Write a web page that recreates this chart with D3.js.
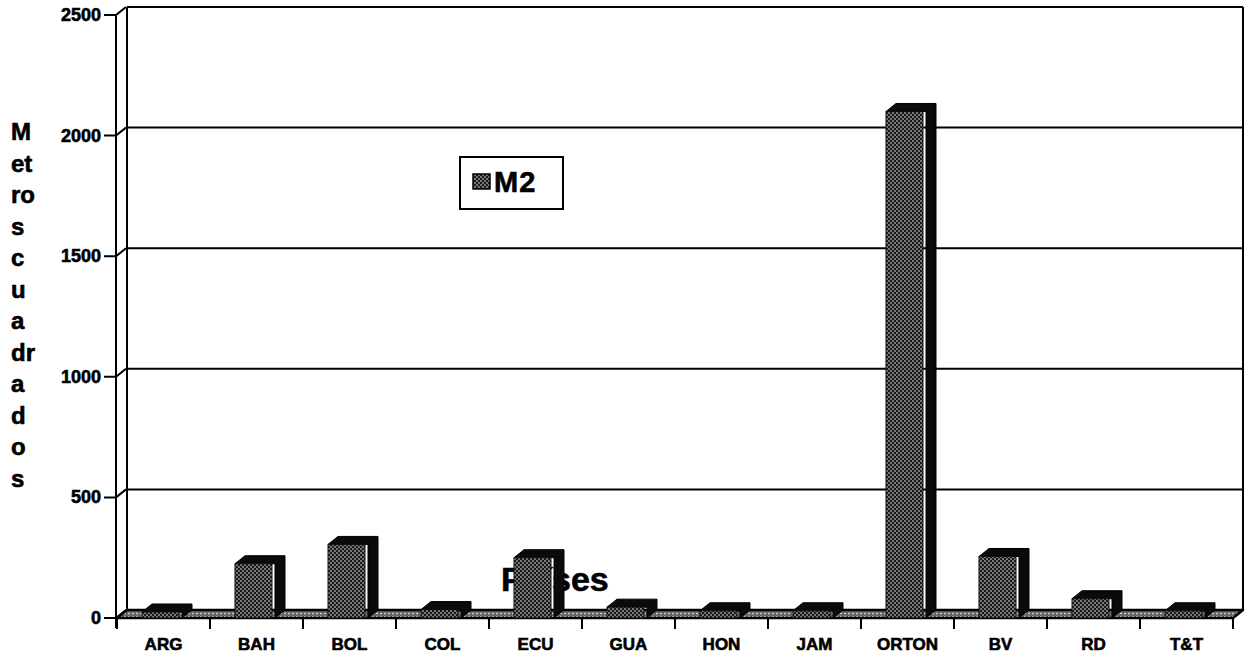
<!DOCTYPE html>
<html lang="es">
<head>
<meta charset="UTF-8">
<title>M2 por país</title>
<script src="https://d3js.org/d3.v7.min.js"></script>
<style>
  body { margin: 0; background: #fff; }
  svg { font-family: "Liberation Sans", Arial, sans-serif; font-weight: bold; }
  svg text { stroke: #000; stroke-width: 0.6px; }
</style>
</head>
<body>
<svg id="chart" width="1246" height="660"></svg>
<script>
// data
const categories = ["ARG", "BAH", "BOL", "COL", "ECU", "GUA", "HON", "JAM", "ORTON", "BV", "RD", "T&T"];
const m2Values = [25, 225, 305, 35, 250, 45, 30, 30, 2100, 255, 80, 30];
const yTicks = [0, 500, 1000, 1500, 2000, 2500];
const yTitleLines = ["M", "et", "ro", "s", "c", "u", "a", "dr", "a", "d", "o", "s"];
const seriesName = "M2";
const xTitle = "Países";

const svg = d3.select("#chart");
const dx = 10, dy = -8;   // 3d depth offset

const x = d3.scaleBand().domain(categories).range([117, 1233]);
const y = d3.scaleLinear().domain([0, 2500]).range([618, 15]);

// patterns
const defs = svg.append("defs");
const bp = defs.append("pattern").attr("id", "barDots")
  .attr("width", 4).attr("height", 4).attr("patternUnits", "userSpaceOnUse");
bp.append("rect").attr("width", 4).attr("height", 4).attr("fill", "#1a1a1a");
bp.append("circle").attr("cx", 1).attr("cy", 1).attr("r", 0.75).attr("fill", "#fff");
bp.append("circle").attr("cx", 3).attr("cy", 3).attr("r", 0.75).attr("fill", "#fff");

const fp = defs.append("pattern").attr("id", "floorDots")
  .attr("width", 4).attr("height", 3).attr("patternUnits", "userSpaceOnUse");
fp.append("rect").attr("width", 4).attr("height", 3).attr("fill", "#666");
fp.append("circle").attr("cx", 1).attr("cy", 1.5).attr("r", 0.8).attr("fill", "#fff");

// back wall: gridlines and edges
const backLeft = 117 + dx, backRight = 1233 + dx;
svg.selectAll(".grid").data(yTicks.filter(d => d > 0)).enter().append("line")
  .attr("x1", backLeft).attr("x2", backRight)
  .attr("y1", d => y(d) + dy).attr("y2", d => y(d) + dy)
  .attr("stroke", "#000").attr("stroke-width", 2);
svg.append("line").attr("x1", backLeft).attr("x2", backLeft)
  .attr("y1", y(2500) + dy).attr("y2", y(0) + dy).attr("stroke", "#000").attr("stroke-width", 2);
svg.append("line").attr("x1", backRight).attr("x2", backRight)
  .attr("y1", y(2500) + dy).attr("y2", y(0) + dy).attr("stroke", "#000").attr("stroke-width", 2);

// front y axis with ticks slanting into the wall
svg.append("line").attr("x1", 116).attr("x2", 116)
  .attr("y1", y(2500)).attr("y2", 628).attr("stroke", "#000").attr("stroke-width", 2);
const tk = svg.selectAll(".ytick").data(yTicks).enter().append("g");
tk.append("path")
  .attr("d", d => `M104,${y(d)}H116L${116 + dx},${y(d) + dy}`)
  .attr("fill", "none").attr("stroke", "#000").attr("stroke-width", 2);
tk.append("text").attr("x", 101).attr("y", d => y(d) + 6)
  .attr("text-anchor", "end").attr("font-size", 18)
  .text(d => d);

// axis titles
svg.append("text").attr("font-size", 24)
  .selectAll("tspan").data(yTitleLines).enter().append("tspan")
  .attr("x", 11).attr("y", (d, i) => 140 + i * 31.5).text(d => d);

svg.append("text").attr("x", 501).attr("y", 591)
  .attr("font-size", 34).text(xTitle);

// floor
svg.append("path")
  .attr("d", `M117,${y(0)}L${117 + dx},${y(0) + dy}H${1233 + dx}L1233,${y(0)}Z`)
  .attr("fill", "url(#floorDots)").attr("stroke", "#000").attr("stroke-width", 2.5)
  .attr("stroke-linejoin", "round");

// x axis ticks and labels
svg.selectAll(".xtick").data(d3.range(categories.length + 1)).enter().append("line")
  .attr("x1", i => 117 + i * x.step()).attr("x2", i => 117 + i * x.step())
  .attr("y1", y(0)).attr("y2", 629).attr("stroke", "#000").attr("stroke-width", 2);
svg.selectAll(".xlab").data(categories).enter().append("text")
  .attr("x", d => x(d) + x.bandwidth() / 2).attr("y", 650)
  .attr("text-anchor", "middle").attr("font-size", 17)
  .text(d => d);

// 3d bars
const bw = 40, off = 25;
const bars = svg.selectAll(".bar").data(categories.map((c, i) => ({ c, v: m2Values[i] })))
  .enter().append("g");
bars.append("path") // top + side
  .attr("d", d => {
    const x0 = x(d.c) + off, x1 = x0 + bw, yt = y(d.v), yb = y(0);
    return `M${x0},${yt}L${x0 + dx},${yt + dy}H${x1 + dx}V${yb + dy}L${x1},${yb}V${yt}Z`;
  })
  .attr("fill", "#0a0a0a").attr("stroke", "#000").attr("stroke-width", 1);
bars.append("rect")
  .attr("x", d => x(d.c) + off).attr("y", d => y(d.v))
  .attr("width", bw - 3).attr("height", d => y(0) - y(d.v))
  .attr("fill", "url(#barDots)").attr("stroke", "#111").attr("stroke-width", 1);

// legend
const lg = svg.append("g");
lg.append("rect").attr("x", 460).attr("y", 157).attr("width", 103).attr("height", 52)
  .attr("fill", "#fff").attr("stroke", "#000").attr("stroke-width", 2);
lg.append("rect").attr("x", 473).attr("y", 174).attr("width", 17).attr("height", 15)
  .attr("fill", "url(#barDots)").attr("stroke", "#000").attr("stroke-width", 1.5);
lg.append("text").attr("x", 494).attr("y", 192).attr("font-size", 29)
  .attr("letter-spacing", 1).text(seriesName);
</script>
</body>
</html>
